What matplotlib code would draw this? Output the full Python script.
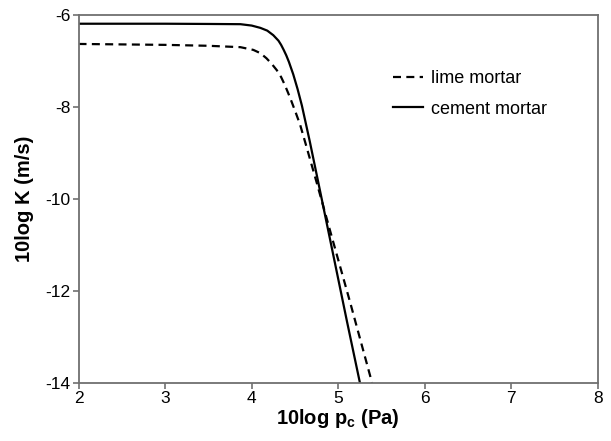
import matplotlib
matplotlib.use("Agg")
import matplotlib.pyplot as plt

plt.rcParams['font.family'] = ['Liberation Sans', 'DejaVu Sans']
plt.rcParams['axes.unicode_minus'] = False

# 读图得到的数据点
cement_x = [2.0, 3.0, 3.5, 3.87, 4.0, 4.1, 4.18, 4.25, 4.31, 4.34, 4.37,
            4.40, 4.43, 4.48, 4.53, 4.58, 4.67, 4.80, 4.96, 5.10, 5.25]
cement_y = [-6.19, -6.19, -6.195, -6.20, -6.23, -6.28, -6.34, -6.44, -6.56,
            -6.65, -6.76, -6.88, -7.02, -7.29, -7.61, -7.97, -8.74, -9.92,
            -11.38, -12.66, -14.0]

lime_x = [2.0, 3.0, 3.5, 3.87, 4.02, 4.10, 4.17, 4.23, 4.29, 4.34, 4.38,
          4.42, 4.46, 4.51, 4.56, 4.62, 4.75, 4.92, 5.14, 5.39]
lime_y = [-6.63, -6.65, -6.67, -6.70, -6.76, -6.83, -6.94, -7.06, -7.20,
          -7.35, -7.51, -7.69, -7.88, -8.13, -8.39, -8.78, -9.64, -10.79,
          -12.27, -14.0]

x_ticks = [2, 3, 4, 5, 6, 7, 8]
y_ticks = [-14, -12, -10, -8, -6]

fig = plt.figure(figsize=(6.11, 4.41), dpi=100)
ax = fig.add_axes([0.1285, 0.1322, 0.8502, 0.8338])

ax.plot(lime_x, lime_y, color='black', lw=1.6, dashes=(3.6, 2.4),
        label='lime mortar')
ax.plot(cement_x, cement_y, color='black', lw=1.6, label='cement mortar')

ax.set_xlim(2, 8)
ax.set_ylim(-14, -6)
ax.set_xticks(x_ticks)
ax.set_yticks(y_ticks)

for s in ax.spines.values():
    s.set_color('#707070')
    s.set_linewidth(1.3)
ax.tick_params(direction='out', length=4, width=1.2, color='#707070',
               labelsize=12.5, pad=2)

ax.set_xlabel(r'10log p$_\mathregular{c}$ (Pa)', fontsize=14.5,
              fontweight='bold', labelpad=1)
ax.set_ylabel('10log K (m/s)', fontsize=14.5, fontweight='bold', labelpad=8)

ax.legend(loc='upper left', bbox_to_anchor=(0.605, 0.85), frameon=False,
          fontsize=13, borderpad=0, handlelength=1.65, handletextpad=0.45,
          labelspacing=0.75, borderaxespad=0)

fig.savefig('out.png', dpi=100)
